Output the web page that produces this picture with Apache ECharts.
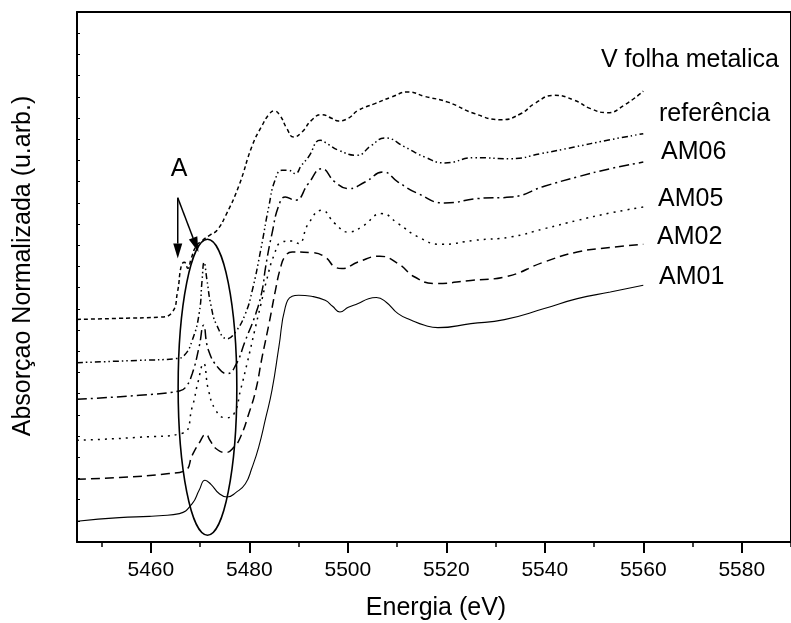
<!DOCTYPE html>
<html><head><meta charset="utf-8">
<script src="https://cdn.jsdelivr.net/npm/echarts@6/dist/echarts.min.js"></script>
<style>html,body{margin:0;padding:0;background:#fff}#c{width:791px;height:623px}</style>
</head><body><div id="c"></div>
<script>
// ---- data (energy in eV, normalized absorption in arbitrary units) ----
const vfolhaE = [5445.0,5453.6,5461.7,5464.3,5465.4,5466.2,5466.8,5467.5,5468.2,5469.2,5470.5,5472.2,5473.4,5475.2,5477.9,5480.6,5482.6,5484.0,5485.0,5486.2,5487.6,5489.0,5490.7,5492.6,5494.7,5496.7,5498.1,5500.1,5502.1,5505.5,5508.9,5512.3,5515.6,5520.3,5525.7,5531.1,5535.2,5537.9,5541.9,5546.0,5549.3,5552.7,5556.1,5560.0];
const vfolhaY = [10.50,10.55,10.61,10.83,11.78,13.05,13.19,12.91,13.38,13.95,14.23,14.51,14.69,15.40,16.82,18.71,19.65,20.17,20.33,20.13,19.51,19.10,19.34,19.89,20.16,19.99,19.86,19.99,20.36,20.68,20.99,21.23,21.02,20.75,20.21,19.92,20.21,20.68,21.07,20.84,20.44,20.25,20.60,21.27];

const refE = [5445.0,5457.7,5465.1,5466.8,5468.4,5469.8,5470.4,5470.8,5471.4,5472.2,5473.4,5475.5,5477.2,5479.2,5480.6,5482.3,5484.0,5485.2,5486.6,5488.0,5489.3,5490.6,5492.0,5494.4,5496.0,5498.1,5501.8,5504.8,5507.5,5511.6,5515.6,5519.7,5525.7,5533.1,5539.2,5546.0,5552.7,5560.0];
const refY = [8.46,8.57,8.65,8.81,9.51,10.77,12.34,13.19,12.34,11.17,10.22,9.59,9.91,10.77,11.87,13.76,15.88,17.06,17.53,17.53,17.38,17.77,18.16,18.95,18.76,18.48,18.24,18.71,19.06,18.63,18.16,17.88,18.13,18.08,18.32,18.63,18.95,19.26];

const am06E = [5445.0,5457.7,5465.8,5467.1,5468.4,5469.8,5470.7,5471.7,5473.8,5475.5,5477.2,5479.2,5481.3,5482.6,5483.3,5484.6,5486.0,5487.3,5489.3,5492.0,5494.7,5497.4,5500.1,5503.5,5507.2,5510.2,5514.3,5519.7,5526.4,5533.1,5539.9,5546.6,5553.3,5560.0];
const am06Y = [6.73,6.92,7.12,7.31,7.94,9.20,10.22,9.04,8.18,7.94,8.33,9.51,10.77,11.87,12.97,14.55,15.88,16.27,16.12,16.91,17.61,16.98,16.67,16.98,17.45,16.98,16.43,15.99,16.20,16.27,16.78,17.22,17.61,17.92];

const am05E = [5445.0,5457.7,5466.4,5468.4,5469.5,5470.7,5471.7,5473.2,5475.2,5476.9,5478.2,5479.6,5481.1,5482.3,5483.5,5485.0,5486.6,5488.7,5490.0,5492.0,5494.7,5497.4,5500.1,5502.8,5506.9,5510.2,5514.3,5519.0,5525.7,5533.1,5539.9,5546.6,5553.3,5560.0];
const am05Y = [4.80,4.94,5.13,6.37,7.47,8.42,7.16,6.21,5.86,6.06,7.16,8.48,9.99,11.17,12.34,13.52,14.15,14.20,14.08,15.02,15.65,15.02,14.62,14.86,15.49,15.02,14.39,14.04,14.23,14.39,14.78,15.17,15.52,15.80];

const am02E = [5445.0,5453.6,5463.7,5467.0,5468.4,5469.8,5471.2,5472.0,5473.2,5475.2,5476.9,5478.2,5479.9,5481.3,5482.6,5484.0,5485.3,5486.3,5487.3,5488.7,5492.7,5495.4,5497.4,5498.8,5502.1,5506.5,5510.2,5513.6,5517.7,5525.0,5531.8,5539.9,5546.6,5553.3,5560.0];
const am02Y = [2.96,3.04,3.23,3.38,4.09,4.66,5.08,4.80,4.41,4.22,4.48,4.95,6.06,7.16,8.73,10.30,11.87,12.91,13.48,13.68,13.65,13.44,12.97,12.90,13.21,13.48,13.13,12.50,12.19,12.34,12.50,13.21,13.68,13.89,14.04];

const am01E = [5445.0,5453.6,5459.7,5461.7,5465.8,5468.4,5469.8,5471.0,5472.2,5473.8,5475.5,5477.3,5479.2,5480.5,5481.9,5483.3,5484.6,5486.0,5487.3,5488.7,5490.0,5492.6,5495.4,5496.9,5498.4,5500.1,5502.1,5504.2,5505.8,5507.8,5510.2,5512.9,5515.6,5518.3,5525.0,5531.8,5539.9,5546.6,5553.3,5560.0];
const am01Y = [0.98,1.15,1.21,1.24,1.34,1.81,2.44,2.91,2.72,2.30,2.12,2.34,2.75,3.48,4.48,5.83,7.16,9.20,11.08,11.59,11.64,11.59,11.40,11.12,10.85,11.07,11.25,11.47,11.53,11.31,10.77,10.46,10.22,10.11,10.30,10.49,11.01,11.48,11.79,12.11];

const seriesNames = ['V folha metalica','referência','AM06','AM05','AM02','AM01'];
const majorTicks = [5460,5480,5500,5520,5540,5560,5580];
const minorTicks = [5450,5470,5490,5510,5530,5550,5570,5590];
const xTitle = 'Energia (eV)';
const yTitle = 'Absorçao Normalizada (u.arb.)';
const markLabel = 'A';

// ---- chart ----
const FONT = '"Liberation Sans", Arial, sans-serif';
const chart = echarts.init(document.getElementById('c'));
const pairs = (e, y) => e.map((v, i) => [v, y[i]]);
const dataSets = [pairs(vfolhaE, vfolhaY), pairs(refE, refY), pairs(am06E, am06Y), pairs(am05E, am05Y), pairs(am02E, am02Y), pairs(am01E, am01Y)];
const dashes = [[4,3],[6,3,1.5,3,1.5,3],[10,4,2,4],[2,5],[9,5],'solid'];
const widths = [1.5,1.5,1.5,1.5,1.5,1.1];

const axisLineStyle = {color:'#000', width:2};
const option = {
  animation: false,
  backgroundColor: '#fff',
  grid: {left:77, top:12, width:717, bottom:81},
  xAxis: [
    {type:'value', min:5445, max:5590, position:'bottom',
     axisLine:{show:true, onZero:false, lineStyle:axisLineStyle},
     axisTick:{show:true, customValues:majorTicks, length:11, lineStyle:{color:'#000', width:2}},
     axisLabel:{customValues:majorTicks, fontSize:21, color:'#000', fontFamily:FONT, margin:18,
                formatter: v => String(v)},
     splitLine:{show:false}},
    {type:'value', min:5445, max:5590, position:'bottom',
     axisLine:{show:false, onZero:false},
     axisTick:{show:true, customValues:minorTicks, length:5, lineStyle:{color:'#000', width:1.5}},
     axisLabel:{show:false}, splitLine:{show:false}},
    {type:'value', min:5445, max:5590, position:'top',
     axisLine:{show:true, onZero:false, lineStyle:axisLineStyle},
     axisTick:{show:false}, axisLabel:{show:false}, splitLine:{show:false}}
  ],
  yAxis: [
    {type:'value', min:0, max:25, interval:1, position:'left',
     axisLine:{show:true, onZero:false, lineStyle:axisLineStyle},
     axisTick:{show:true, inside:true, length:3, lineStyle:{color:'#000', width:1}},
     axisLabel:{show:false}, splitLine:{show:false}},
    {type:'value', min:0, max:25, position:'right',
     axisLine:{show:true, onZero:false, lineStyle:axisLineStyle},
     axisTick:{show:false}, axisLabel:{show:false}, splitLine:{show:false}}
  ],
  series: dataSets.map((d, i) => ({
    name: seriesNames[i], type:'line', data:d, xAxisIndex:0, yAxisIndex:0,
    showSymbol:false, symbol:'none', smooth:0.5,
    lineStyle:{color:'#000', width:widths[i], type:dashes[i]}
  }))
};
chart.setOption(option);

const labelPos = [[601,60],[659,114],[661,152],[658,199],[657,237],[659,277]];
const F = '25px ' + FONT;
const txt = (s, x, y, extra) => Object.assign({type:'text', x:x, y:y, silent:true,
  style:{text:s, fill:'#000', font:F, textAlign:'left', textVerticalAlign:'middle'}}, extra || {});

const P = (e, v) => chart.convertToPixel({gridIndex:0}, [e, v]);
// ellipse around pre-edge peaks (data coordinates)
const ellC = P(5471.5, 7.30), ellR = P(5471.5 + 5.96, 7.30 + 6.98);
const rx = ellR[0] - ellC[0], ry = ellC[1] - ellR[1];
// arrows
const aStart = P(5465.46, 16.24), aEnd1 = P(5465.46, 13.37), aEnd2 = P(5469.66, 13.68);
function arrow(s, e) {
  const dx = e[0]-s[0], dy = e[1]-s[1], L = Math.hypot(dx, dy), ux = dx/L, uy = dy/L;
  const hl = 15, hw = 4.5;
  const bx = e[0]-ux*hl, by = e[1]-uy*hl;
  return [
    {type:'line', silent:true, shape:{x1:s[0], y1:s[1], x2:bx, y2:by}, style:{stroke:'#000', lineWidth:1.5}},
    {type:'polygon', silent:true, shape:{points:[[e[0],e[1]],[bx-uy*hw, by+ux*hw],[bx+uy*hw, by-ux*hw]]}, style:{fill:'#000'}}
  ];
}
const graphics = [];
seriesNames.forEach((n, i) => graphics.push(txt(n, labelPos[i][0], labelPos[i][1])));
graphics.push(txt(markLabel, 179, 169, {style:{text:markLabel, fill:'#000', font:F, textAlign:'center', textVerticalAlign:'middle'}}));
graphics.push(txt(xTitle, 436, 608, {style:{text:xTitle, fill:'#000', font:F, textAlign:'center', textVerticalAlign:'middle'}}));
graphics.push(txt(yTitle, 23, 266, {rotation:Math.PI/2, style:{text:yTitle, fill:'#000', font:F, textAlign:'center', textVerticalAlign:'middle'}}));
graphics.push({type:'ellipse', silent:true, shape:{cx:ellC[0], cy:ellC[1], rx:rx, ry:ry}, style:{fill:'none', stroke:'#000', lineWidth:1.6}});
arrow(aStart, aEnd1).forEach(g => graphics.push(g));
arrow(aStart, aEnd2).forEach(g => graphics.push(g));
chart.setOption({graphic:{elements:graphics}});
</script>
</body></html>
